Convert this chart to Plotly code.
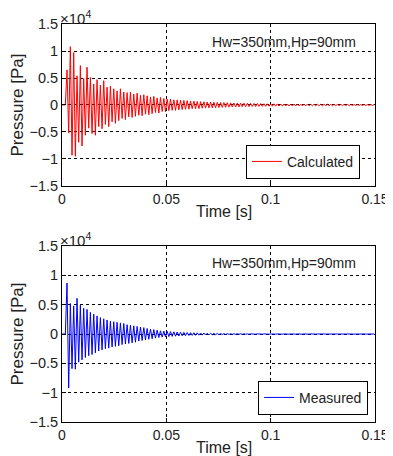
import numpy as np
import plotly.graph_objects as go

# ---------------- data (Pa) ----------------
sample_interval = 0.0008  # s

calculated = [
    0, 0, 0,
    6500, -5200, 10800, -9300, 9700, -9500, 5400, -6900,
    7300, -7600, 4900, -5600, 7000, -4300, 5100, -5300, 3900, -5600,
    4700, -4000, 3700, -4400, 4500, -3600, 3300, -4000, 3500, -3100,
    3000, -3400, 2600, -2900, 3000, -2500, 2400, -2700, 2300, -2200,
    2400, -2300, 2000, -2100, 2200, -1900, 1800, -2000, 1900, -1700,
    1700, -1800, 1500, -1600, 1600, -1400, 1300, -1500, 1400, -1200,
    1200, -1250, 1100, -1050, 1100, -1000, 950, -1000, 950, -900,
    900, -850, 850, -800, 800, -780, 750, -700, 720, -680,
    650, -680, 620, -600, 600, -570, 560, -540, 550, -520,
    500, -510, 480, -470, 460, -450, 440, -420, 430, -400,
    390, -380, 370, -380, 350, -360, 340, -330, 340, -320,
    310, -300, 300, -290, 280, -290, 270, -260, 270, -250,
    230, -240, 220, -230, 210, -220, 220, -200, 210, -200,
    190, -200, 190, -180, 180, -190, 170, -180, 180, -170,
    170, -160, 160, -170, 150, -160, 160, -150, 150, -140,
    140, -150, 140, -140, 130, -140, 130, -130, 130, -120,
    120, -130, 120, -120, 120, -110, 110, -120, 110, -110,
    110, -100, 100, -110, 100, -100, 100, -90, 90, -100,
    90, -90, 90, -80, 80, -90, 80,
]

measured = [
    0, 0, 0,
    8700, -9200, 5200, -5900, 4800, -6000, 6100, -4800,
    4900, -4400, 4400, -4000, 4200, -3700, 3700, -3500, 3400, -3200,
    3100, -2900, 2800, -2700, 2600, -2500, 2400, -2400, 2200, -2200,
    2100, -2100, 2000, -2000, 1900, -1800, 1800, -1700, 1600, -1600,
    1500, -1500, 1400, -1400, 1300, -1200, 1200, -1100, 1100, -1000,
    950, -900, 850, -800, 750, -700, 650, -600, 550, -520,
    500, -480, 460, -440, 420, -400, 380, -370, 350, -340,
    320, -300, 290, -280, 260, -250, 240, -230, 220, -210,
    200, -190, 180, -180, 170, -160, 150, -150, 140, -130,
    130, -120, 110, -110, 100, -100, 90, -90, 80, -80,
    70, -70, 60, -60, 60, -50, 50, -50, 40, -40,
    40, -40, 30, -30, 30, -30, 30, -30, 30, -30,
    30, -20, 20, -30, 20, -20, 20, -20, 20, -20,
    20, -20, 20, -20, 20, -20, 20, -20, 20, -20,
    20, -20, 20, -20, 20, -20, 20, -20, 20, -20,
    20, -10, 10, -20, 10, -10, 10, -10, 10, -10,
    10, -10, 10, -10, 10, -10, 10, -10, 10, -10,
    10, -10, 10, -10, 10, -10, 10, -10, 10, -10,
    10, -10, 10, -10, 10, -10, 10,
]

x_ticks = [0, 0.05, 0.1, 0.15]
x_tick_labels = ["0", "0.05", "0.1", "0.15"]
y_ticks = [-15000, -10000, -5000, 0, 5000, 10000, 15000]
y_tick_labels = ["\u22121.5", "\u22121", "\u22120.5", "0", "0.5", "1", "1.5"]
case_label = "Hw=350mm,Hp=90mm"
x_title = "Time [s]"
y_title = "Pressure [Pa]"

t_calc = np.arange(len(calculated)) * sample_interval
t_meas = np.arange(len(measured)) * sample_interval

FONT = "Liberation Sans, Arial, sans-serif"
TXT = "#222222"

fig = go.Figure()
fig.add_trace(go.Scatter(x=t_calc, y=calculated, mode="lines", name="Calculated",
                         line=dict(color="#ff0000", width=1), xaxis="x", yaxis="y",
                         legend="legend"))
fig.add_trace(go.Scatter(x=t_meas, y=measured, mode="lines", name="Measured",
                         line=dict(color="#0000ff", width=1), xaxis="x2", yaxis="y2",
                         legend="legend2"))

xcommon = dict(range=[0, 0.15], tickvals=x_ticks, ticktext=x_tick_labels,
               showline=True, mirror=True, linecolor="black", linewidth=1,
               ticks="inside", ticklen=4, tickcolor="black",
               showgrid=True, gridcolor="black", griddash="dot", gridwidth=1,
               zeroline=False, tickfont=dict(size=14, color=TXT, family=FONT),
               automargin=False)
ycommon = dict(range=[-15000, 15000], tickvals=y_ticks, ticktext=y_tick_labels,
               showline=True, mirror=True, linecolor="black", linewidth=1,
               ticks="inside", ticklen=4, tickcolor="black",
               showgrid=True, gridcolor="black", griddash="dot", gridwidth=1,
               zeroline=False, tickfont=dict(size=14.5, color=TXT, family=FONT),
               title=dict(text=y_title, font=dict(size=17, color=TXT, family=FONT), standoff=4),
               automargin=False)

top_dom = [0.593, 1.0]
bot_dom = [0.0, 0.442]

legend_common = dict(xanchor="right", yanchor="bottom", bordercolor="black", borderwidth=1,
                     bgcolor="white", font=dict(size=14, color=TXT, family=FONT),
                     itemwidth=30, tracegroupgap=0)

ann_font = dict(size=14, color=TXT, family=FONT)
fig.update_layout(
    width=385, height=448,
    margin=dict(l=54, r=18, t=16, b=34),
    paper_bgcolor="white", plot_bgcolor="white",
    font=dict(family=FONT, color=TXT),
    xaxis=dict(domain=[0, 1], anchor="y", **xcommon),
    yaxis=dict(domain=top_dom, anchor="x", **ycommon),
    xaxis2=dict(domain=[0, 1], anchor="y2", **xcommon),
    yaxis2=dict(domain=bot_dom, anchor="x2", **ycommon),
    legend=dict(x=0.952, y=0.611, **legend_common),
    legend2=dict(x=0.978, y=0.018, **legend_common),
    showlegend=True,
    annotations=[
        dict(text=case_label, x=0.709, y=0.955, xref="paper", yref="paper",
             xanchor="center", yanchor="middle", showarrow=False, font=ann_font),
        dict(text=case_label, x=0.709, y=0.3995, xref="paper", yref="paper",
             xanchor="center", yanchor="middle", showarrow=False, font=ann_font),
        dict(text=x_title, x=0.518, y=0.530, xref="paper", yref="paper",
             xanchor="center", yanchor="middle", showarrow=False,
             font=dict(size=16, color=TXT, family=FONT)),
        dict(text=x_title, x=0.518, y=-0.063, xref="paper", yref="paper",
             xanchor="center", yanchor="middle", showarrow=False,
             font=dict(size=16, color=TXT, family=FONT)),
        dict(text="\u00d710<sup>4</sup>", x=-0.013, y=top_dom[1], xref="paper", yref="paper",
             xanchor="left", yanchor="bottom", showarrow=False, yshift=-5,
             font=dict(size=15, color=TXT, family=FONT)),
        dict(text="\u00d710<sup>4</sup>", x=-0.013, y=bot_dom[1], xref="paper", yref="paper",
             xanchor="left", yanchor="bottom", showarrow=False, yshift=-5,
             font=dict(size=15, color=TXT, family=FONT)),
    ],
)

fig.write_html("out.html")
